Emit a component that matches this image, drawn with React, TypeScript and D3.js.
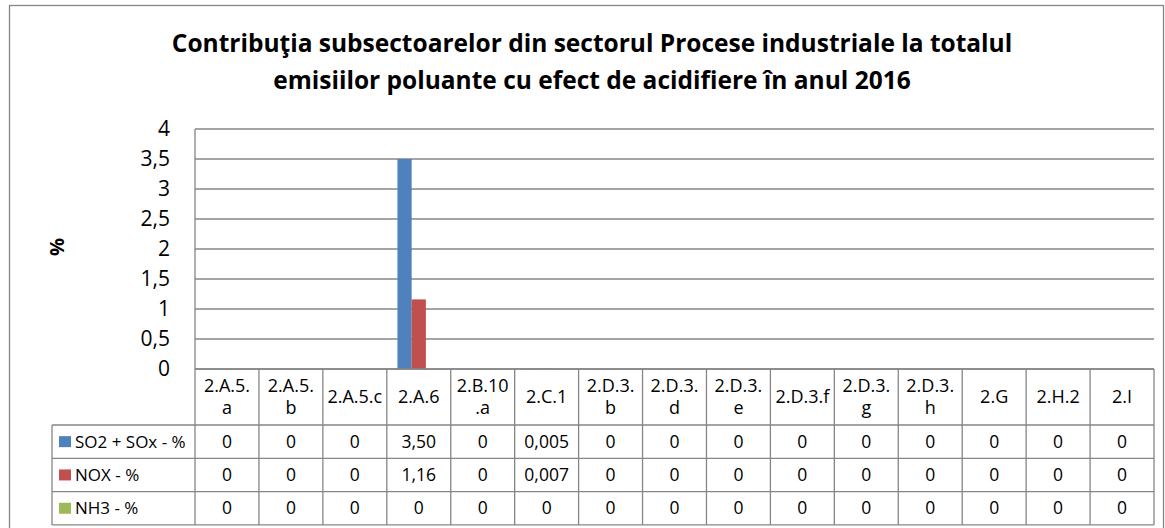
import React, { useEffect, useRef } from "react";
import * as d3 from "d3";

const titleLines = [
  "Contribuţia subsectoarelor din sectorul Procese industriale la totalul",
  "emisiilor poluante cu efect de acidifiere în anul 2016",
];

const categories = [
  "2.A.5.\na", "2.A.5.\nb", "2.A.5.c", "2.A.6", "2.B.10\n.a", "2.C.1",
  "2.D.3.\nb", "2.D.3.\nd", "2.D.3.\ne", "2.D.3.f", "2.D.3.\ng", "2.D.3.\nh",
  "2.G", "2.H.2", "2.I",
];

const seriesNames = ["SO2 + SOx - %", "NOX - %", "NH3 - %"];
const seriesColors = ["#4F81BD", "#C0504D", "#9BBB59"];

const so2 = [0, 0, 0, 3.5, 0, 0.005, 0, 0, 0, 0, 0, 0, 0, 0, 0];
const nox = [0, 0, 0, 1.16, 0, 0.007, 0, 0, 0, 0, 0, 0, 0, 0, 0];
const nh3 = [0, 0, 0, 0, 0, 0, 0, 0, 0, 0, 0, 0, 0, 0, 0];

const yTicks = [0, 0.5, 1, 1.5, 2, 2.5, 3, 3.5, 4];

const W = 1165;
const H = 528;
const FONT = "'Open Sans', sans-serif";
const GRID = "#868686";

// number format as in the table: 0 / 3,50 / 0,005
function fmt(v: number) {
  if (v === 0) return "0";
  const s = v >= 1 ? v.toFixed(2) : v.toFixed(3);
  return s.replace(".", ",");
}

export default function App() {
  const ref = useRef<SVGSVGElement>(null);

  useEffect(() => {
    const svg = d3.select(ref.current);
    svg.selectAll("*").remove();

    const plot = { left: 195, right: 1154, top: 129, bottom: 369 };
    const headerH = 56;
    const rowH = 33.3;
    const legendLeft = 52;

    const values = [so2, nox, nh3];

    // outer border
    svg.append("rect")
      .attr("x", 9.5).attr("y", 5.5)
      .attr("width", 1154).attr("height", 540)
      .attr("fill", "white")
      .attr("stroke", GRID).attr("stroke-width", 1.3);

    // title
    const title = svg.append("text")
      .attr("text-anchor", "middle")
      .attr("font-family", FONT)
      .attr("font-weight", "bold")
      .attr("font-size", 24.5)
      .attr("fill", "#000");
    titleLines.forEach((t, i) => {
      title.append("tspan").attr("x", 592).attr("y", 52 + i * 36.5).text(t);
    });

    const x = d3.scaleBand<number>()
      .domain(d3.range(categories.length))
      .range([plot.left, plot.right]);
    const bw = x.bandwidth() / 4.5; // gap width 150%
    const xs = d3.scaleBand<number>()
      .domain(d3.range(seriesNames.length))
      .range([bw * 0.75, x.bandwidth() - bw * 0.75]);

    const y = d3.scaleLinear().domain([0, 4]).range([plot.bottom, plot.top]);

    // gridlines
    svg.append("g").selectAll("line")
      .data(yTicks)
      .enter()
      .append("line")
      .attr("x1", plot.left).attr("x2", plot.right)
      .attr("y1", (d) => y(d)).attr("y2", (d) => y(d))
      .attr("stroke", GRID).attr("stroke-width", 1.3);

    // y axis line
    svg.append("line")
      .attr("x1", plot.left).attr("x2", plot.left)
      .attr("y1", plot.top).attr("y2", plot.bottom)
      .attr("stroke", GRID).attr("stroke-width", 1.3);

    // y tick labels
    svg.append("g").selectAll("text")
      .data(yTicks)
      .enter()
      .append("text")
      .attr("x", 170)
      .attr("y", (d) => y(d))
      .attr("dy", "0.35em")
      .attr("text-anchor", "end")
      .attr("font-family", FONT)
      .attr("font-size", 21)
      .text((d) => String(d).replace(".", ","));

    // y axis title
    svg.append("text")
      .attr("transform", "translate(57,247) rotate(-90)")
      .attr("dy", "0.35em")
      .attr("text-anchor", "middle")
      .attr("font-family", FONT)
      .attr("font-weight", "bold")
      .attr("font-size", 20)
      .text("%");

    // bars
    values.forEach((vals, s) => {
      svg.append("g").selectAll("rect")
        .data(vals)
        .enter()
        .append("rect")
        .attr("x", (d, i) => (x(i) as number) + (xs(s) as number))
        .attr("width", xs.bandwidth())
        .attr("y", (d) => y(d))
        .attr("height", (d) => y(0) - y(d))
        .attr("fill", seriesColors[s]);
    });

    // data table
    const tableTop = plot.bottom;
    const rowTop = (r: number) => tableTop + headerH + r * rowH;
    const tableBottom = rowTop(seriesNames.length);
    const tg = svg.append("g")
      .attr("stroke", GRID).attr("stroke-width", 1.3);

    // horizontal lines
    tg.append("line")
      .attr("x1", plot.left).attr("x2", plot.right)
      .attr("y1", tableTop).attr("y2", tableTop);
    d3.range(seriesNames.length + 1).forEach((r) => {
      tg.append("line")
        .attr("x1", legendLeft).attr("x2", plot.right)
        .attr("y1", rowTop(r)).attr("y2", rowTop(r));
    });
    // vertical lines
    d3.range(categories.length + 1).forEach((i) => {
      const xx = i < categories.length ? (x(i) as number) : plot.right;
      tg.append("line")
        .attr("x1", xx).attr("x2", xx)
        .attr("y1", tableTop).attr("y2", tableBottom);
    });
    tg.append("line")
      .attr("x1", legendLeft).attr("x2", legendLeft)
      .attr("y1", rowTop(0)).attr("y2", tableBottom);

    // header labels
    categories.forEach((c, i) => {
      const lines = c.split("\n");
      const cx = (x(i) as number) + x.bandwidth() / 2;
      const cy = tableTop + headerH / 2;
      const t = svg.append("text")
        .attr("text-anchor", "middle")
        .attr("font-family", FONT)
        .attr("font-size", 18);
      lines.forEach((l, k) => {
        t.append("tspan")
          .attr("x", cx)
          .attr("y", cy + (k - (lines.length - 1) / 2) * 21.7)
          .attr("dy", "0.35em")
          .text(l);
      });
    });

    // rows
    seriesNames.forEach((name, s) => {
      const cy = rowTop(s) + rowH / 2;
      svg.append("rect")
        .attr("x", 59).attr("y", cy - 5.5)
        .attr("width", 12).attr("height", 11)
        .attr("fill", seriesColors[s]);
      svg.append("text")
        .attr("x", 75)
        .attr("y", cy)
        .attr("dy", "0.35em")
        .attr("font-family", FONT)
        .attr("font-size", 17)
        .text(name);
      svg.append("g").selectAll("text")
        .data(values[s])
        .enter()
        .append("text")
        .attr("x", (d, i) => (x(i) as number) + x.bandwidth() / 2)
        .attr("y", cy)
        .attr("dy", "0.35em")
        .attr("text-anchor", "middle")
        .attr("font-family", FONT)
        .attr("font-size", 17.5)
        .text((d) => fmt(d));
    });
  }, []);

  return (
    <svg
      ref={ref}
      width={W}
      height={H}
      style={{ position: "absolute", left: 0, top: 0, background: "white" }}
    />
  );
}
